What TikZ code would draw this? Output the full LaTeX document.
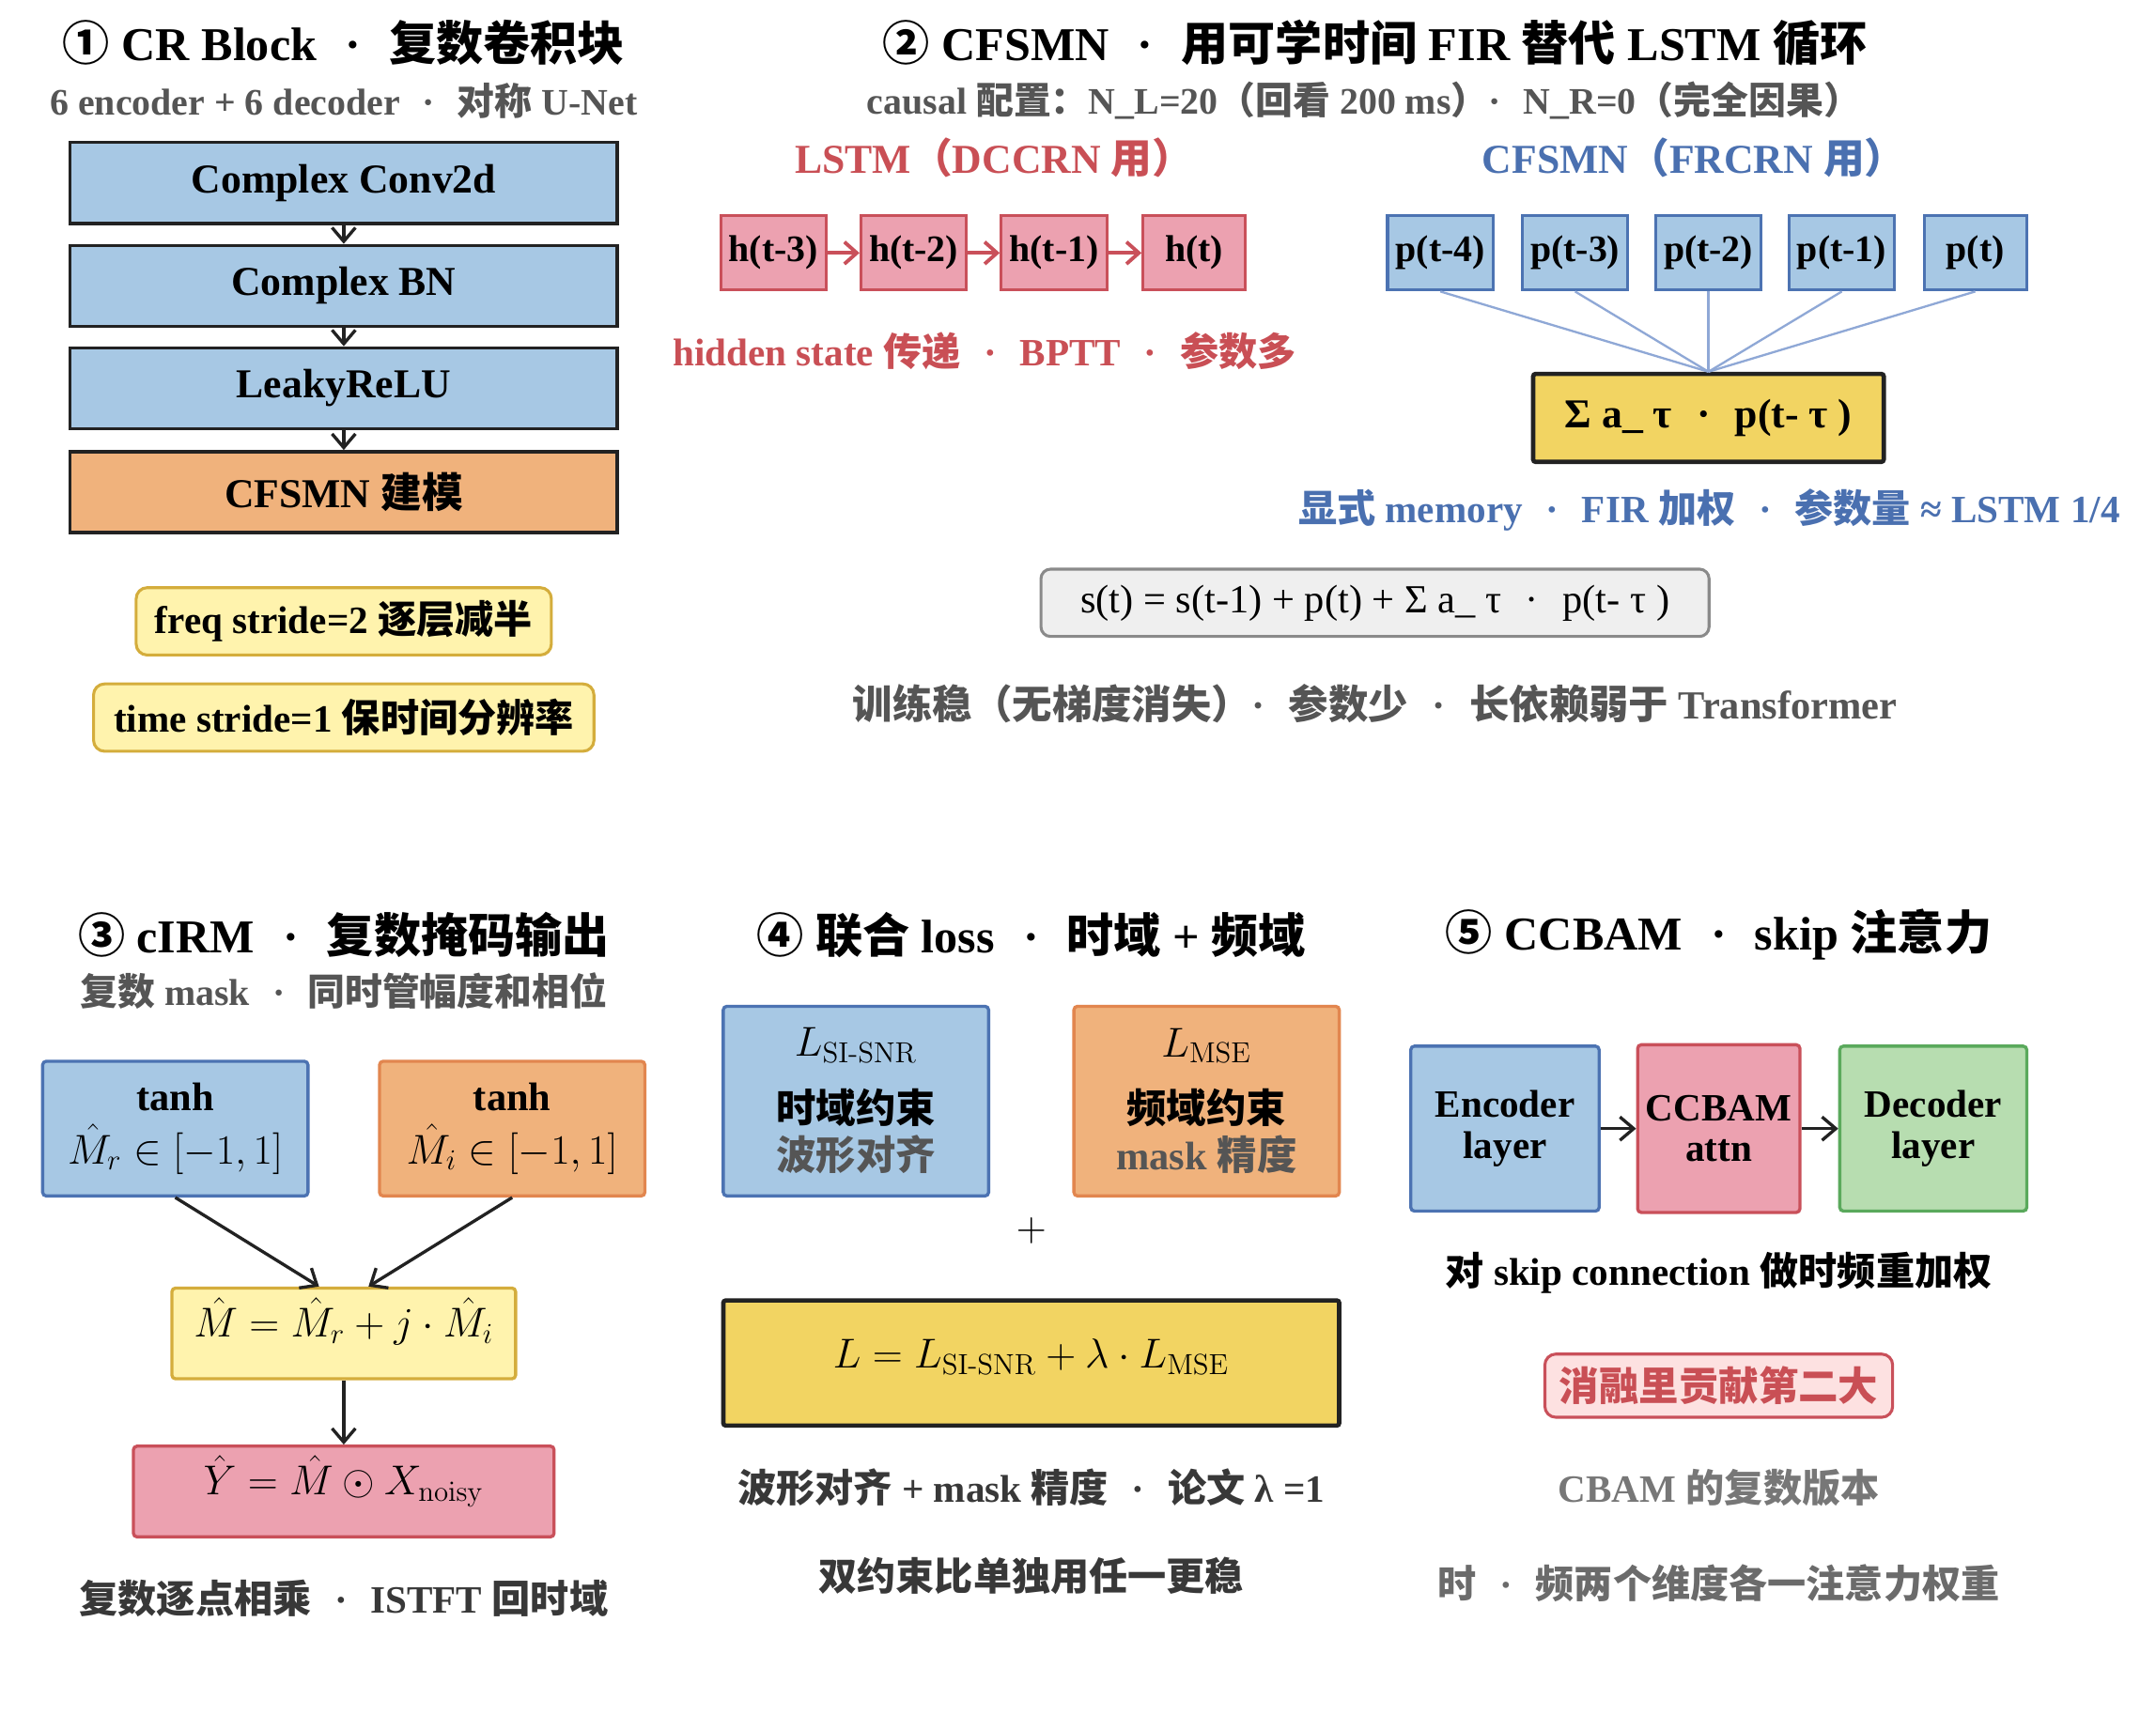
\documentclass[tikz,border=0pt]{standalone}
\usepackage{amsmath}
\usepackage[no-math]{fontspec}
\setmainfont{Liberation Serif}
\newfontfamily\cjkfont{Noto Sans CJK SC}
\usetikzlibrary{arrows.meta}

% Han characters, CJK punctuation and circled digits go to the CJK face
\XeTeXinterchartokenstate=1
\newXeTeXintercharclass\hanclass
\newcount\hanidx
\newcommand\hanrange[2]{%
  \hanidx=#1\relax
  \loop\XeTeXcharclass\hanidx=\hanclass
  \ifnum\hanidx<#2\advance\hanidx by 1\repeat}
\hanrange{"3000}{"303F}
\hanrange{"4E00}{"9FFF}
\hanrange{"FF00}{"FFEF}
\hanrange{"2460}{"24FF}
\XeTeXinterchartoks 0 \hanclass = {\cjkfont}
\XeTeXinterchartoks 4095 \hanclass = {\cjkfont}
\XeTeXinterchartoks \hanclass 0 = {\rmfamily}
\XeTeXinterchartoks \hanclass 4095 = {\rmfamily}

\newcommand\sisnr{\mathrm{SI\mathchar"002D SNR}}
\newcommand\mdot{\hspace{0.6em}·\hspace{0.6em}}

\definecolor{bluefill}{HTML}{A7C8E4}
\definecolor{blueline}{HTML}{4C73B2}
\definecolor{orangefill}{HTML}{F0B27C}
\definecolor{orangeline}{HTML}{E2864F}
\definecolor{pinkfill}{HTML}{ECA1B0}
\definecolor{pinkline}{HTML}{C9505A}
\definecolor{notefill}{HTML}{FFF3AD}
\definecolor{noteline}{HTML}{D4AD3C}
\definecolor{goldfill}{HTML}{F2D462}
\definecolor{greenfill}{HTML}{B7DDB0}
\definecolor{greenline}{HTML}{5AA95C}
\definecolor{ink}{HTML}{222222}
\definecolor{redtext}{HTML}{C94F55}
\definecolor{bluetext}{HTML}{4A70B0}
\definecolor{greytext}{HTML}{555555}
\definecolor{paletext}{HTML}{777777}
\definecolor{tapline}{HTML}{8FA8D6}
\definecolor{formfill}{HTML}{EFEFEF}
\definecolor{formline}{HTML}{8A8A8A}
\definecolor{rosefill}{HTML}{FDE1E1}

\tikzset{
  title/.style={font=\fontsize{19.5}{23}\selectfont\bfseries},
  subtitle/.style={font=\fontsize{15.5}{18}\selectfont\bfseries,text=greytext},
  remark/.style={font=\fontsize{16}{19}\selectfont\bfseries,text=#1},
  remark/.default=greytext,
  layer/.style={
    draw=ink,line width=1.3pt,fill=bluefill,
    minimum width=7.96cm,minimum height=1.18cm,
    font=\fontsize{17}{20}\selectfont\bfseries,
  },
  note/.style={
    draw=noteline,fill=notefill,line width=1.2pt,rounded corners=0.16cm,
    minimum height=0.98cm,font=\fontsize{16}{19}\selectfont\bfseries,
  },
  cell/.style={
    draw=#1line,fill=#1fill,line width=1.2pt,
    minimum width=1.49cm,minimum height=1.08cm,
    font=\fontsize{15.5}{18}\selectfont\bfseries,
  },
  box/.style={
    draw=#1line,fill=#1fill,line width=1.3pt,rounded corners=1.5pt,
    align=center,font=\fontsize{16.5}{20}\selectfont\bfseries,
  },
  total/.style={draw=ink,fill=goldfill,line width=1.8pt,rounded corners=1pt},
  arr/.style={-{Straight Barb[length=2mm,width=3.4mm]},line width=1.3pt,draw=ink},
  harr/.style={-{Straight Barb[length=1.8mm,width=3.2mm]},line width=1.5pt,draw=pinkline},
  tap/.style={line width=0.9pt,draw=tapline},
}

\begin{document}
\begin{tikzpicture}[x=0.02cm,y=-0.02cm]
    \fill[white] (0,0) rectangle (1568,1258);
    \useasboundingbox (0,0) rectangle (1568,1258);

    % (1) CR block
    \node[title] (t1) at (250,31) {① CR Block\mdot 复数卷积块};
    \node[subtitle] (s1) at (250,73) {6 encoder + 6 decoder\mdot 对称 U-Net};
    \node[layer] (conv) at (250,133) {Complex Conv2d};
    \node[layer] (bn)   at (250,208) {Complex BN};
    \node[layer] (act)  at (250,282.5) {LeakyReLU};
    \node[layer,fill=orangefill] (fsmn) at (250,358) {CFSMN 建模};
    \draw[arr] (conv) -- (bn);
    \draw[arr] (bn) -- (act);
    \draw[arr] (act) -- (fsmn);
    \node[note,minimum width=6.04cm] (freq) at (250,452) {freq stride=2 逐层减半};
    \node[note,minimum width=7.28cm] (time) at (250,522) {time stride=1 保时间分辨率};

    % (2) CFSMN
    \node[title] (t2) at (1000,31) {② CFSMN\mdot 用可学时间 FIR 替代 LSTM 循环};
    \node[subtitle] (s2) at (992,73) {causal 配置：N\_L=20（回看 200 ms）·\hspace{0.6em}N\_R=0（完全因果）};
    \node[remark=redtext,font=\fontsize{17}{20}\selectfont\bfseries] (lstm) at (723,115) {LSTM（DCCRN 用）};
    \node[remark=bluetext,font=\fontsize{17}{20}\selectfont\bfseries] (cfsmn) at (1232,115) {CFSMN（FRCRN 用）};
    \node[cell=pink] (h3) at (562.5,184) {h(t-3)};
    \node[cell=pink] (h2) at (664.5,184) {h(t-2)};
    \node[cell=pink] (h1) at (766.5,184) {h(t-1)};
    \node[cell=pink] (h0) at (868.5,184) {h(t)};
    \draw[harr] (h3) -- (h2);
    \draw[harr] (h2) -- (h1);
    \draw[harr] (h1) -- (h0);
    \node[remark=redtext] (bptt) at (716,255) {hidden state 传递\mdot BPTT\mdot 参数多};
    \node[cell=blue] (p4) at (1047.5,184) {p(t-4)};
    \node[cell=blue] (p3) at (1145.5,184) {p(t-3)};
    \node[cell=blue] (p2) at (1242.5,184) {p(t-2)};
    \node[cell=blue] (p1) at (1339.5,184) {p(t-1)};
    \node[cell=blue] (p0) at (1436.5,184) {p(t)};
    \node[total,minimum width=5.1cm,minimum height=1.28cm,
      font=\fontsize{17}{20}\selectfont\bfseries] (sig) at (1242.5,304) {Σ a\_ τ\mdot p(t- τ )};
    \foreach \p in {p4,p3,p2,p1,p0}
      \draw[tap] (\p.south) -- (sig.north);
    \node[remark=bluetext] (mem) at (1243,371) {显式 memory\mdot FIR 加权\mdot 参数量 ≈ LSTM 1/4};
    \node[draw=formline,fill=formfill,line width=1.2pt,rounded corners=0.14cm,
      minimum width=9.72cm,minimum height=0.98cm,
      font=\fontsize{16.5}{19}\selectfont] (form) at (1000,438.5)
      {s(t) = s(t-1) + p(t) + Σ a\_ τ\mdot p(t- τ )};
    \node[remark=greytext,font=\fontsize{16.5}{19}\selectfont\bfseries] (pros) at (1000,512)
      {训练稳（无梯度消失）·\hspace{0.6em}参数少\mdot 长依赖弱于 Transformer};

    % (3) cIRM
    \node[title] (t3) at (250,680) {③ cIRM\mdot 复数掩码输出};
    \node[subtitle] (s3) at (250,721) {复数 mask\mdot 同时管幅度和相位};
    \node[box=blue,minimum width=3.86cm,minimum height=1.96cm] (mr) at (127.5,821)
      {tanh\\[2pt] \mdseries$\hat{M}_r \in [-1, 1]$};
    \node[box=orange,minimum width=3.86cm,minimum height=1.96cm] (mi) at (372.5,821)
      {tanh\\[2pt] \mdseries$\hat{M}_i \in [-1, 1]$};
    \node[box=note,minimum width=5cm,minimum height=1.32cm,
      text height=13pt,text depth=10pt] (mm) at (250,970)
      {\mdseries$\hat{M} = \hat{M}_r + j \cdot \hat{M}_i$};
    \node[box=pink,minimum width=6.12cm,minimum height=1.32cm,
      text height=13pt,text depth=10pt] (my) at (250,1085)
      {\mdseries$\hat{Y} = \hat{M} \odot X_{\mathrm{noisy}}$};
    \draw[arr] (mr.south) -- ([xshift=-0.36cm]mm.north);
    \draw[arr] (mi.south) -- ([xshift=0.36cm]mm.north);
    \draw[arr] (mm) -- (my);
    \node[remark=ink!90] (istft) at (250,1163) {复数逐点相乘\mdot ISTFT 回时域};

    % (4) joint loss
    \node[title] (t4) at (750,680) {④ 联合 loss\mdot 时域 + 频域};
    \node[box=blue,minimum width=3.86cm,minimum height=2.76cm,
      font=\fontsize{16.5}{19.5}\selectfont\bfseries] (lsi) at (622.5,801)
      {\mdseries\fontsize{17}{20}\selectfont$L_{\sisnr}$\\[8pt] 时域约束\\ \textcolor{greytext}{波形对齐}};
    \node[box=orange,minimum width=3.86cm,minimum height=2.76cm,
      font=\fontsize{16.5}{19.5}\selectfont\bfseries] (lmse) at (877.5,801)
      {\mdseries\fontsize{17}{20}\selectfont$L_{\mathrm{MSE}}$\\[8pt] 频域约束\\ \textcolor{greytext}{mask 精度}};
    \node[font=\fontsize{17}{20}\selectfont] (plus) at (750,895) {$+$};
    \node[total,minimum width=8.96cm,minimum height=1.82cm,
      font=\fontsize{17}{20}\selectfont,text height=13pt,text depth=9pt] (loss) at (750,991.5)
      {$L = L_{\sisnr} + \lambda \cdot L_{\mathrm{MSE}}$};
    \node[remark=ink!90] (lam) at (750,1082) {波形对齐 + mask 精度\mdot 论文 λ =1};
    \node[remark=ink!90] (dual) at (750,1146) {双约束比单独用任一更稳};

    % (5) CCBAM
    \node[title] (t5) at (1250,680) {⑤ CCBAM\mdot skip 注意力};
    \node[box=blue,minimum width=2.74cm,minimum height=2.4cm,
      font=\fontsize{16}{17}\selectfont\bfseries] (enc) at (1094.5,821) {Encoder\\layer};
    \node[box=pink,minimum width=2.36cm,minimum height=2.44cm,
      font=\fontsize{16}{17}\selectfont\bfseries] (att) at (1250,821) {CCBAM\\attn};
    \node[box=green,minimum width=2.72cm,minimum height=2.4cm,
      font=\fontsize{16}{17}\selectfont\bfseries] (dec) at (1406,821) {Decoder\\layer};
    \draw[arr] (enc) -- (att);
    \draw[arr] (att) -- (dec);
    \node[remark=black] (skip) at (1250,926) {对 skip connection 做时频重加权};
    \node[draw=pinkline,fill=rosefill,line width=1.2pt,rounded corners=0.16cm,
      minimum width=5.06cm,minimum height=0.92cm,text=redtext,
      font=\fontsize{16.5}{19}\selectfont\bfseries] (rank) at (1250,1008) {消融里贡献第二大};
    \node[remark=paletext] (cbam) at (1250,1082) {CBAM 的复数版本};
    \node[remark=paletext!90!black] (tf) at (1250,1152) {时\mdot 频两个维度各一注意力权重};
\end{tikzpicture}
\end{document}
